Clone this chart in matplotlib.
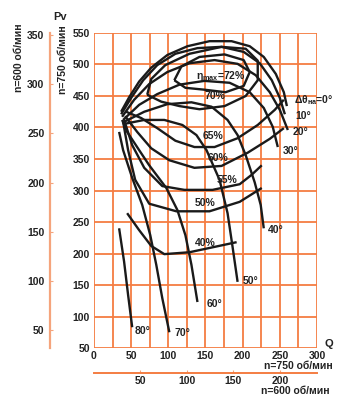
import numpy as np
import matplotlib.pyplot as plt

plt.rcParams['font.family'] = ['Liberation Sans', 'DejaVu Sans']
plt.rcParams['font.weight'] = 'bold'
plt.rcParams['mathtext.fontset'] = 'custom'
plt.rcParams['mathtext.rm'] = 'Liberation Sans:bold'
plt.rcParams['mathtext.it'] = 'Liberation Sans:bold'
plt.rcParams['mathtext.bf'] = 'Liberation Sans:bold'

# axis ticks (n=750 scale) and the n=600 scales
q_ticks = [0, 50, 100, 150, 200, 250, 300]
pv_ticks = [50, 100, 150, 200, 250, 300, 350, 400, 450, 500, 550]
q600_ticks = [50, 100, 150, 200]
pv600_ticks = [50, 100, 150, 200, 250, 300, 350]
q_grid = np.arange(0, 301, 25)

# blade angle characteristics (Q, Pv) at n=750
a0_q = [36.5, 47.3, 60.8, 77, 98.6, 125.7, 155.4, 185.1, 209.5, 228.4, 244.6, 255.4, 259.5]
a0_p = [425, 448, 473, 495, 515, 529, 537, 537, 529, 512, 485, 456, 434]
a10_q = [36.5, 50, 66.2, 85.1, 109.5, 139.2, 171.6, 201.4, 223, 239.2, 250, 256.8]
a10_p = [421, 447, 475, 499, 517, 526, 528, 520, 502, 475, 447, 421]
a20_q = [37.8, 54, 74.3, 98.6, 128.4, 162.2, 193.2, 217.6, 236.5, 250, 260.8]
a20_p = [417, 444, 469, 488, 502, 507, 501, 483, 456, 428, 396]
a30_q = [39.2, 60.8, 85.1, 114.9, 148.6, 182.4, 209.5, 228.4, 240.5, 247.3]
a30_p = [412, 436, 453, 468, 474, 471, 456, 431, 401, 369]
a40_q = [40.5, 67.6, 98.6, 131.1, 158.1, 179.7, 193.2, 204.1, 216.2, 224.3, 228.4]
a40_p = [409, 425, 437, 440, 433, 412, 388, 356, 313, 277, 240]
a50_q = [41.9, 67.6, 94.6, 118.9, 137.8, 151.4, 168.9, 179.7, 186.5, 193.2]
a50_p = [406, 412, 412, 404, 388, 364, 317, 264, 210, 155]
a60_q = [37.8, 44.6, 60.8, 74.3, 97.3, 112.2, 123, 131.1, 139.2]
a60_p = [412, 393, 364, 340, 304, 269, 229, 182, 123]
a70_q = [33.8, 39.2, 51.4, 64.9, 75.7, 83.8, 91.9, 101.4]
a70_p = [393, 364, 320, 277, 229, 182, 129, 75]
a80_q = [33.8, 40.5, 45.9, 51.4]
a80_p = [240, 187, 134, 83]

# efficiency lines
e72_q = [108.1, 117.6, 141.9, 175.7, 201.4, 209.5, 201.4, 177, 148.6, 123, 108.1]
e72_p = [475, 497, 512, 516, 507, 488, 466, 456, 460, 463, 475]
e70_q = [71.6, 77, 95.9, 128.4, 171.6, 204.1, 220.3, 220.3, 204.1, 175.7, 141.9, 114.9, 90.5, 71.6]
e70_p = [452, 477, 499, 517, 528, 525, 506, 475, 450, 434, 429, 434, 441, 452]
e65_q = [43.2, 63.5, 85.1, 109.5, 135.1, 162.2, 193.2, 220.3, 243.2, 255.4]
e65_p = [425, 415, 399, 379, 369, 369, 383, 404, 428, 444]
e60_q = [41.9, 58.1, 77, 101.4, 135.1, 171.6, 206.8, 236.5, 255.4]
e60_p = [418, 393, 367, 348, 336, 339, 360, 382, 399]
e55_q = [40.5, 51.4, 67.6, 91.9, 121.6, 159.5, 196, 212.2, 225.7]
e55_p = [412, 372, 336, 307, 301, 301, 310, 325, 340]
e50_q = [39.2, 45.9, 55.4, 74.3, 110.8, 155.4, 196, 225.7]
e50_p = [409, 364, 317, 279, 267, 267, 282, 304]
e40_q = [44.6, 60.8, 77, 94.6, 128.4, 191.9]
e40_p = [264, 237, 212, 199, 202, 218]

curves = [(a0_q, a0_p), (a10_q, a10_p), (a20_q, a20_p), (a30_q, a30_p),
          (a40_q, a40_p), (a50_q, a50_p), (a60_q, a60_p), (a70_q, a70_p),
          (a80_q, a80_p), (e72_q, e72_p), (e70_q, e70_p), (e65_q, e65_p),
          (e60_q, e60_p), (e55_q, e55_p), (e50_q, e50_p), (e40_q, e40_p)]

# labels: text, Q, Pv
labels = [(r'$\Delta\theta_{на}$=0°', 268.9, 444), ('10°', 270.3, 419), ('20°', 267.6, 393),
          ('30°', 254, 363), ('40°', 233.8, 237), ('50°', 200, 156), ('60°', 151.4, 120),
          ('70°', 108.1, 74), ('80°', 54, 77),
          (r'$\eta_{max}$=72%', 137.8, 482), ('70%', 148.6, 450), ('65%', 146, 387),
          ('60%', 152.7, 352), ('55%', 164.9, 317), ('50%', 135.1, 280), ('40%', 135.1, 217)]

grid_c = '#f47d42'
light_c = '#f5a47c'
text_c = '#222222'

fig = plt.figure(figsize=(3.6, 3.98), dpi=100)
ax = fig.add_axes([0.2611, 0.1256, 0.6194, 0.7915])
ax.set_xlim(0, 300)
ax.set_ylim(50, 550)

for q in q_grid:
    ax.axvline(q, color=grid_c, lw=1.3, zorder=1)
for p in pv_ticks:
    ax.axhline(p, color=grid_c, lw=1.3, zorder=1)
for s in ax.spines.values():
    s.set_visible(False)

ax.set_xticks(q_ticks)
ax.set_yticks(pv_ticks)
ax.tick_params(length=0, labelsize=7.5, colors=text_c)
ax.tick_params(axis='x', pad=2)
ax.tick_params(axis='y', pad=3)

for q, p in curves:
    ax.plot(q, p, color='#1a1a1a', lw=1.7, solid_joinstyle='round',
            solid_capstyle='butt', zorder=3)

for t, q, p in labels:
    ax.text(q, p, t, fontsize=7.5, color=text_c, ha='left', va='center', zorder=4)

# n=600 scales
sy = ax.secondary_yaxis(-0.197, functions=(lambda p: p * 0.64, lambda p: p / 0.64))
sy.set_yticks(pv600_ticks)
sy.spines['left'].set_color(light_c)
sy.spines['left'].set_linewidth(1.6)
sy.tick_params(direction='in', length=2, color=light_c, labelsize=7.5,
               labelcolor=text_c, pad=4)

sx = ax.secondary_xaxis(-0.079, functions=(lambda q: q * 0.8, lambda q: q / 0.8))
sx.set_xticks(q600_ticks)
sx.spines['bottom'].set_color(grid_c)
sx.spines['bottom'].set_linewidth(1.4)
sx.tick_params(direction='in', length=2, color=light_c, labelsize=7.5,
               labelcolor=text_c, pad=2)

# axis titles
ax.text(1.054, 0.012, 'Q', transform=ax.transAxes, fontsize=8, color=text_c,
        ha='center', va='center')
ax.text(1.072, -0.058, 'n=750 об/мин', transform=ax.transAxes, fontsize=7.5,
        color=text_c, ha='right', va='center')
ax.text(1.058, -0.136, 'n=600 об/мин', transform=ax.transAxes, fontsize=7.5,
        color=text_c, ha='right', va='center')
ax.text(-0.152, 1.051, 'Pv', transform=ax.transAxes, fontsize=8, color=text_c,
        ha='center', va='center')
ax.text(-0.139, 0.917, 'n=750 об/мин', transform=ax.transAxes, fontsize=7.5,
        color=text_c, ha='center', va='center', rotation=90)
ax.text(-0.336, 0.921, 'n=600 об/мин', transform=ax.transAxes, fontsize=7.5,
        color=text_c, ha='center', va='center', rotation=90)

fig.savefig('out.png', dpi=100)
